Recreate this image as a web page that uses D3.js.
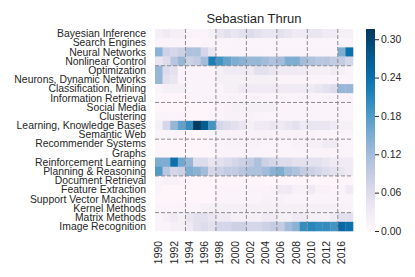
<!DOCTYPE html>
<html>
<head>
<meta charset="utf-8">
<script src="https://cdn.jsdelivr.net/npm/d3@7"></script>
<style>
  body { margin: 0; background: #fff; }
  svg { display: block; font-family: "Liberation Sans", Arial, sans-serif; }
</style>
</head>
<body>
<div id="main"></div>
<script>
'use strict';

// columns (years) of the heatmap
var years = ['1990','1991','1992','1993','1994','1995','1996','1997','1998','1999',
  '2000','2001','2002','2003','2004','2005','2006','2007','2008','2009',
  '2010','2011','2012','2013','2016','2017'];

// rows (topics)
var topics = ['Bayesian Inference','Search Engines','Neural Networks','Nonlinear Control',
  'Optimization','Neurons, Dynamic Networks','Classification, Mining','Information Retrieval',
  'Social Media','Clustering','Learning, Knowledge Bases','Semantic Web',
  'Recommender Systems','Graphs','Reinforcement Learning','Planning & Reasoning',
  'Document Retrieval','Feature Extraction','Support Vector Machines','Kernel Methods',
  'Matrix Methods','Image Recognition'];

// topic share per year, one row per topic
var values = [
  [0.02,0.03,0.02,0.02,0.01,0.01,0.01,0.02,0.04,0.05,0.04,0.05,0.06,0.05,0.04,0.04,0.05,0.04,0.03,0.03,0.04,0.04,0.03,0.03,0.02,0.02],
  [0.01,0.01,0.01,0.01,0.005,0.005,0.01,0.01,0.01,0.01,0.01,0.01,0.01,0.01,0.01,0.01,0.01,0.01,0.01,0.01,0.01,0.01,0.01,0.01,0.01,0.01],
  [0.14,0.08,0.07,0.08,0.11,0.11,0.07,0.04,0.01,0.01,0.01,0.01,0.01,0.01,0.01,0.01,0.01,0.01,0.01,0.01,0.01,0.01,0.01,0.01,0.15,0.24],
  [0.04,0.06,0.10,0.13,0.08,0.09,0.12,0.22,0.19,0.17,0.15,0.14,0.13,0.13,0.12,0.11,0.12,0.15,0.15,0.12,0.11,0.10,0.10,0.09,0.09,0.07],
  [0.13,0.06,0.05,0.01,0.01,0.01,0.01,0.01,0.02,0.03,0.03,0.03,0.03,0.05,0.05,0.04,0.03,0.03,0.03,0.03,0.02,0.02,0.02,0.03,0.02,0.01],
  [0.13,0.05,0.04,0.01,0.01,0.01,0.01,0.01,0.02,0.02,0.02,0.02,0.02,0.02,0.02,0.02,0.01,0.01,0.01,0.01,0.01,0.01,0.01,0.01,0.01,0.01],
  [0.01,0.02,0.02,0.02,0.01,0.01,0.01,0.01,0.01,0.02,0.02,0.03,0.03,0.03,0.03,0.03,0.03,0.03,0.03,0.03,0.03,0.04,0.05,0.06,0.13,0.13],
  [0.005,0.005,0.005,0.005,0.01,0.01,0.01,0.01,0.01,0.01,0.01,0.01,0.01,0.01,0.01,0.01,0.01,0.01,0.01,0.01,0.01,0.01,0.01,0.01,0.01,0.01],
  [0.005,0.005,0.005,0.005,0.005,0.005,0.005,0.005,0.01,0.015,0.02,0.02,0.02,0.02,0.02,0.02,0.01,0.01,0.01,0.01,0.01,0.01,0.01,0.01,0.01,0.01],
  [0.01,0.01,0.01,0.01,0.005,0.005,0.005,0.01,0.01,0.015,0.015,0.015,0.015,0.01,0.01,0.01,0.01,0.01,0.01,0.01,0.01,0.01,0.01,0.01,0.01,0.01],
  [0.02,0.07,0.13,0.17,0.20,0.31,0.27,0.19,0.07,0.06,0.05,0.04,0.02,0.03,0.03,0.04,0.03,0.04,0.05,0.03,0.04,0.04,0.04,0.03,0.02,0.02],
  [0.01,0.01,0.01,0.01,0.005,0.005,0.01,0.01,0.015,0.015,0.015,0.015,0.015,0.015,0.015,0.015,0.015,0.015,0.015,0.015,0.015,0.01,0.01,0.01,0.01,0.01],
  [0.005,0.005,0.005,0.005,0.005,0.005,0.005,0.01,0.01,0.015,0.015,0.015,0.015,0.015,0.01,0.01,0.01,0.01,0.015,0.015,0.02,0.02,0.03,0.03,0.01,0.01],
  [0.005,0.005,0.005,0.005,0.005,0.005,0.005,0.005,0.01,0.01,0.01,0.01,0.01,0.01,0.01,0.01,0.01,0.01,0.01,0.01,0.01,0.01,0.01,0.01,0.01,0.01],
  [0.15,0.15,0.24,0.16,0.13,0.06,0.06,0.04,0.05,0.06,0.07,0.08,0.09,0.11,0.08,0.07,0.06,0.06,0.05,0.05,0.05,0.05,0.04,0.03,0.03,0.03],
  [0.18,0.10,0.07,0.08,0.15,0.14,0.12,0.07,0.08,0.09,0.09,0.10,0.11,0.11,0.12,0.14,0.15,0.12,0.11,0.09,0.08,0.07,0.06,0.05,0.04,0.03],
  [0.01,0.015,0.015,0.01,0.005,0.005,0.005,0.005,0.005,0.005,0.005,0.005,0.005,0.005,0.005,0.005,0.005,0.005,0.005,0.005,0.005,0.005,0.005,0.005,0.005,0.005],
  [0.01,0.005,0.005,0.005,0.005,0.005,0.005,0.005,0.01,0.01,0.01,0.01,0.01,0.01,0.01,0.015,0.03,0.03,0.015,0.015,0.03,0.015,0.015,0.01,0.01,0.03],
  [0.005,0.005,0.005,0.005,0.005,0.005,0.005,0.005,0.01,0.01,0.01,0.01,0.01,0.01,0.015,0.015,0.015,0.01,0.01,0.01,0.01,0.01,0.01,0.01,0.01,0.01],
  [0.01,0.01,0.01,0.01,0.01,0.01,0.02,0.02,0.02,0.02,0.02,0.02,0.02,0.02,0.02,0.02,0.02,0.02,0.02,0.02,0.02,0.02,0.02,0.02,0.015,0.015],
  [0.01,0.02,0.03,0.02,0.04,0.05,0.05,0.04,0.03,0.03,0.02,0.02,0.02,0.02,0.03,0.03,0.02,0.02,0.03,0.03,0.02,0.02,0.02,0.03,0.05,0.05],
  [0.01,0.01,0.02,0.02,0.03,0.05,0.06,0.05,0.07,0.07,0.08,0.08,0.07,0.07,0.08,0.09,0.09,0.12,0.14,0.20,0.21,0.20,0.20,0.19,0.25,0.24]
];

var cbarTicks = [0, 0.06, 0.12, 0.18, 0.24, 0.30];
var vmax = 0.316;

var width = 415, height = 277;
var box = { left: 155, right: 353, top: 29, bottom: 231 };
var textColor = '#262626';

var svg = d3.select('#main').append('svg')
  .attr('width', width)
  .attr('height', height);

var x = d3.scaleBand().domain(years).range([box.left, box.right]);
var y = d3.scaleBand().domain(topics).range([box.top, box.bottom]);
var color = d3.scaleSequential(d3.interpolatePuBu).domain([0, vmax]);

// cells
var cells = [];
values.forEach(function(row, i) {
  row.forEach(function(v, j) {
    cells.push({ topic: topics[i], year: years[j], v: v });
  });
});

svg.append('g').selectAll('rect')
  .data(cells).enter()
  .append('rect')
  .attr('x', function(d) { return x(d.year); })
  .attr('y', function(d) { return y(d.topic); })
  .attr('width', x.bandwidth() + 0.3)
  .attr('height', y.bandwidth() + 0.3)
  .attr('fill', function(d) { return color(d.v); });

// dashed separators every 4 columns / rows
var grid = svg.append('g')
  .attr('stroke', '#8c8c8c')
  .attr('stroke-width', 1)
  .attr('stroke-dasharray', '4,2');

years.forEach(function(yr, j) {
  if (j > 0 && j % 4 === 0) {
    grid.append('line')
      .attr('x1', x(yr)).attr('x2', x(yr))
      .attr('y1', box.top).attr('y2', box.bottom);
  }
});
topics.forEach(function(t, i) {
  if (i > 0 && i % 4 === 0) {
    grid.append('line')
      .attr('x1', box.left).attr('x2', box.right)
      .attr('y1', y(t)).attr('y2', y(t));
  }
});

// y labels
svg.append('g').selectAll('text')
  .data(topics).enter()
  .append('text')
  .attr('x', 146)
  .attr('y', function(d) { return y(d) + y.bandwidth() / 2; })
  .attr('dy', '0.35em')
  .attr('text-anchor', 'end')
  .attr('font-size', 10.4)
  .attr('fill', textColor)
  .text(function(d) { return d; });

// x labels, every other year
svg.append('g').selectAll('text')
  .data(years.filter(function(d, i) { return i % 2 === 0; })).enter()
  .append('text')
  .attr('transform', function(d) {
    return 'translate(' + (x(d) + x.bandwidth() / 2) + ',241) rotate(-90)';
  })
  .attr('dy', '0.35em')
  .attr('text-anchor', 'end')
  .attr('font-size', 10.4)
  .attr('fill', textColor)
  .text(function(d) { return d; });

// title
svg.append('text')
  .attr('x', (box.left + box.right) / 2)
  .attr('y', 23)
  .attr('text-anchor', 'middle')
  .attr('font-size', 13)
  .attr('fill', textColor)
  .text('Sebastian Thrun');

// colorbar
var cb = { x: 366, w: 9 };
var grad = svg.append('defs').append('linearGradient')
  .attr('id', 'cbar')
  .attr('x1', 0).attr('y1', 1).attr('x2', 0).attr('y2', 0);
d3.range(0, 1.0001, 0.05).forEach(function(t) {
  grad.append('stop')
    .attr('offset', t)
    .attr('stop-color', color(t * vmax));
});
svg.append('rect')
  .attr('x', cb.x).attr('y', box.top)
  .attr('width', cb.w).attr('height', box.bottom - box.top)
  .attr('fill', 'url(#cbar)');

var cy = d3.scaleLinear().domain([0, vmax]).range([box.bottom, box.top]);
var cAxis = svg.append('g')
  .attr('transform', 'translate(' + (cb.x + cb.w) + ',0)')
  .call(d3.axisRight(cy).tickValues(cbarTicks).tickFormat(d3.format('.2f')).tickSize(4).tickPadding(2));
cAxis.select('.domain').remove();
cAxis.selectAll('line').attr('stroke', textColor);
cAxis.selectAll('text')
  .attr('font-size', 10.4)
  .attr('font-family', '"Liberation Sans", Arial, sans-serif')
  .attr('fill', textColor);
</script>
</body>
</html>
